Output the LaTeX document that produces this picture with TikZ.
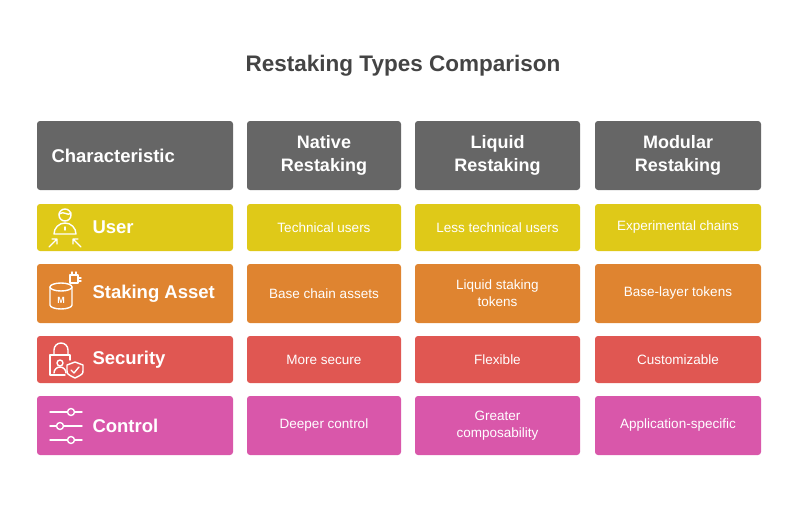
\documentclass[tikz,border=0pt]{standalone}
\usepackage{fontspec}
\setmainfont{Liberation Sans}
\definecolor{hdgray}{HTML}{666666}
\definecolor{cyellow}{HTML}{DFC918}
\definecolor{corange}{HTML}{DF8430}
\definecolor{cred}{HTML}{E05752}
\definecolor{cpink}{HTML}{D957AA}
\begin{document}
\begin{tikzpicture}[x=1pt,y=-1pt,
    cell/.style={rounded corners=3pt, text=white, align=center, inner sep=0pt},
    head/.style={cell, fill=hdgray, font=\bfseries\fontsize{18}{23}\selectfont},
    body/.style={cell, font=\fontsize{13.5}{17}\selectfont},
    rowlab/.style={text=white, anchor=west, font=\bfseries\fontsize{18.5}{22}\selectfont},
    icon/.style={white, line width=1.4pt, line cap=round, line join=round}]
    \useasboundingbox (0,0) rectangle (806,522);
    \node (title) at (403,66) {\bfseries\fontsize{22.5}{26}\selectfont\color[HTML]{444444}Restaking Types Comparison};
    % header row
    \node [head, minimum width=196, minimum height=69] (hchar) at (135,155.5) {};
    \node [rowlab] (hcharlab) at (48,155.5) {Characteristic};
    \node [head, minimum width=154, minimum height=69] (hnat) at (324,155.5) {Native\\Restaking};
    \node [head, minimum width=165, minimum height=69] (hliq) at (497.5,155.5) {Liquid\\Restaking};
    \node [head, minimum width=166, minimum height=69] (hmod) at (678,155.5) {Modular\\Restaking};
    % rows
    \foreach \name/\col/\y/\h/\lab/\a/\b/\c in {
        user/cyellow/227.5/47/User/Technical users/Less technical users/Experimental chains,
        asset/corange/293.5/59/Staking Asset/Base chain assets/Liquid staking\\tokens/Base-layer tokens,
        sec/cred/359.5/47/Security/More secure/Flexible/Customizable,
        ctrl/cpink/425.5/59/Control/Deeper control/Greater\\composability/Application-specific} {
        \node [cell, fill=\col, minimum width=196, minimum height=\h] (\name) at (135,\y) {};
        \node [rowlab] (\name lab) at (89,\y) {\lab};
        \node [body, fill=\col, minimum width=154, minimum height=\h] (\name nat) at (324,\y) {\a};
        \node [body, fill=\col, minimum width=165, minimum height=\h] (\name liq) at (497.5,\y) {\b};
        \node [body, fill=\col, minimum width=166, minimum height=\h] (\name mod) at (678,\y) {\c};
    }
    % icons
    \begin{scope}[icon]
        \draw (65,215) circle (6);
        \draw (59,214) .. controls (64,210) and (68,217) .. (71,213);
        \draw (54,234) arc (180:360:11) -- cycle;
        \draw (65,227) -- (65,230);
        \draw (49,247) -- (57,239) (52,239) -- (57,239) -- (57,244);
        \draw (81,247) -- (73,239) (78,239) -- (73,239) -- (73,244);
        \draw (50,287) -- (50,305) arc (180:0:11 and 4) -- (72,287);
        \draw (61,287) ellipse (11 and 4);
        \node [text=white, font=\bfseries\fontsize{9}{9}\selectfont] (mlab) at (61,300) {M};
        \draw (70,275) rectangle (78,283);
        \draw (72,275) -- (72,272) (76,275) -- (76,272) (78,278) -- (81,278) (78,281) -- (81,281);
        \draw (65,375) -- (50,375) -- (50,355) -- (70,355) -- (70,360);
        \draw (54,355) -- (54,350) arc (180:360:7) -- (68,355);
        \draw (60,363) circle (3);
        \draw (54,373) arc (180:360:6);
        \draw (75,362) -- (83,365) -- (83,370) .. controls (83,374) .. (75,378) .. controls (67,374) .. (67,370) -- (67,365) -- cycle;
        \draw (71,370) -- (74,373) -- (79,367);
        \draw (50,412) -- (82,412) (50,426) -- (82,426) (50,440) -- (82,440);
        \draw [fill=cpink] (71,412) circle (3.5) (60,426) circle (3.5) (71,440) circle (3.5);
    \end{scope}
\end{tikzpicture}
\end{document}
